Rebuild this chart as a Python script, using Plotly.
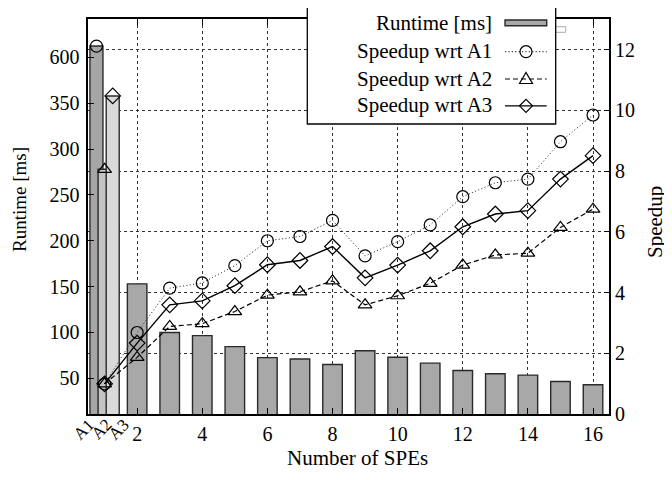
import plotly.graph_objects as go

# ---------------- data ----------------
base_labels = ["A1", "A2", "A3"]
base_pos = [0.75, 1.0, 1.25]
base_runtime = [662, 278, 390]          # ms

spes = list(range(2, 17))
runtime = [153, 100, 96.5, 84.5, 72.5, 71, 65, 80, 73, 66.5, 58.5, 55, 53.5, 46.5, 43]

sp_x = [1] + spes
speedup_a1 = [1.0, 2.69, 4.15, 4.32, 4.89, 5.71, 5.85, 6.38, 5.21, 5.68, 6.23, 7.16, 7.62, 7.74, 8.97, 9.85]
speedup_a2 = [1.0, 1.87, 2.89, 2.98, 3.38, 3.92, 4.03, 4.39, 3.60, 3.90, 4.31, 4.91, 5.24, 5.30, 6.15, 6.75]
speedup_a3 = [1.0, 2.34, 3.60, 3.73, 4.23, 4.92, 5.06, 5.52, 4.49, 4.91, 5.38, 6.17, 6.59, 6.70, 7.74, 8.51]

left_ticks = [50, 100, 150, 200, 250, 300, 350, 600]
x_ticks = [2, 4, 6, 8, 10, 12, 14, 16]

# broken left axis: above 350 ms the scale is compressed
BREAK, SQUEEZE = 350, 5.0
def tr(v):
    return v if v <= BREAK else BREAK + (v - BREAK) / SQUEEZE

# the page body has an 8px margin, so the figure is drawn 8px in from the corner
OFF = 8
W, H = 672 - OFF, 480 - OFF
FONT = "Liberation Serif, Times New Roman, serif"
FS_TICK = 20
FS_TEXT = 21
def px(x):
    return (x - OFF) / W
def py(y):
    return 1 - (y - OFF) / H

DOT = "1.2px,2.2px"
DASH = "5px,3px"

fig = go.Figure()

bar_line = dict(color="#2a2a2a", width=1.4)
base_colors = ["#a6a6a6", "#c4c4c4", "#d9d9d9"]
for lab, pos, val, col in zip(base_labels, base_pos, base_runtime, base_colors):
    fig.add_trace(go.Bar(x=[pos], y=[tr(val)], width=0.4, marker=dict(color=col, line=bar_line),
                         showlegend=False, hoverinfo="skip"))
fig.add_trace(go.Bar(x=spes, y=[tr(v) for v in runtime], width=0.6,
                     marker=dict(color="#a8a8a8", line=bar_line), showlegend=False))

# markers on top of the baseline bars
syms = ["circle-open", "triangle-up-open", "diamond-open"]
for pos, val, s in zip(base_pos, base_runtime, syms):
    fig.add_trace(go.Scatter(x=[pos], y=[tr(val)], mode="markers",
                             marker=dict(symbol=s, size=12, color="black", line=dict(width=1.2)),
                             showlegend=False, cliponaxis=False))

series = [
    (speedup_a1, "circle-open", dict(color="#444444", width=1, dash=DOT)),
    (speedup_a2, "triangle-up-open", dict(color="black", width=1.2, dash=DASH)),
    (speedup_a3, "diamond-open", dict(color="black", width=1.4)),
]
for vals, s, ln in series:
    fig.add_trace(go.Scatter(x=sp_x, y=vals, yaxis="y2", mode="lines+markers", line=ln,
                             marker=dict(symbol=s, size=12, color="black", line=dict(width=1.2)),
                             showlegend=False, cliponaxis=False))

x_dom = [px(88.3), px(609.3)]
y_dom = [py(414.2), py(19.3)]

fig.update_layout(
    width=W, height=H, margin=dict(l=0, r=0, t=0, b=0, pad=0, autoexpand=False),
    paper_bgcolor="white", plot_bgcolor="white",
    barmode="overlay", showlegend=False,
    font=dict(family=FONT, size=FS_TICK, color="black"),
    xaxis=dict(domain=x_dom, range=[0.5, 16.5], tickvals=x_ticks, ticktext=[str(v) for v in x_ticks],
               ticks="inside", ticklen=6, tickcolor="black", showline=True, linecolor="black",
               linewidth=1.5, mirror="ticks", showgrid=True, gridcolor="#333", griddash="dot",
               gridwidth=1, zeroline=False, ticklabelstandoff=1, automargin=False),
    yaxis=dict(domain=y_dom, range=[10.84, 441.6], tickvals=[tr(v) for v in left_ticks],
               ticktext=[str(v) for v in left_ticks], ticks="inside", ticklen=6, tickcolor="black",
               showline=True, linecolor="black", linewidth=1.5, showgrid=False, zeroline=False,
               ticklabelstandoff=3, automargin=False),
    yaxis2=dict(overlaying="y", side="right", range=[0, 13], tickvals=[0, 2, 4, 6, 8, 10, 12],
                ticks="inside", ticklen=6, tickcolor="black", showline=True, linecolor="black",
                linewidth=1.5, showgrid=True, gridcolor="#333", griddash="dot", gridwidth=1,
                zeroline=False, ticklabelstandoff=0, automargin=False),
)

ann = []
def note(x, y, text, size=FS_TEXT, angle=0, xanchor="center"):
    ann.append(dict(x=px(x), y=py(y), xref="paper", yref="paper", text=text, showarrow=False,
                    textangle=angle, xanchor=xanchor, yanchor="middle", font=dict(size=size)))

for lab, xx in zip(base_labels, [83.5, 101, 118.5]):
    note(xx, 429, lab, size=17, angle=-45)
note(19, 200, "Runtime [ms]", size=19, angle=-90)
note(655, 222, "Speedup", angle=-90)
note(357, 458, "Number of SPEs")

# ---- hand-drawn key (text right-aligned, sample on the right) ----
shapes = []
shapes.append(dict(type="rect", xref="paper", yref="paper", x0=px(548), x1=px(565.7), y0=py(32.3), y1=py(26.7),
                   fillcolor="white", line=dict(color="#aaaaaa", width=1), layer="above"))
shapes.append(dict(type="rect", xref="paper", yref="paper", x0=px(307.3), x1=px(555.7), y0=py(124), y1=py(4.7),
                   fillcolor="white", line=dict(color="black", width=1.3), layer="above"))
rows = [("Runtime [ms]", 23.5), ("Speedup wrt A1", 51), ("Speedup wrt A2", 78.5), ("Speedup wrt A3", 105)]
for txt, yy in rows:
    note(493.5, yy, txt, xanchor="right")
# runtime sample
shapes.append(dict(type="rect", xref="paper", yref="paper", x0=px(505), x1=px(546.7), y0=py(25.7), y1=py(20),
                   fillcolor="#a8a8a8", line=dict(color="#2a2a2a", width=1.4), layer="above"))
sx0, sx1, cx = 505, 546.7, 526
dashes = [DOT, DASH, "solid"]
colors = ["#444444", "black", "black"]
mk_y = [51.7, 79, 105.8]
for yy, d, c in zip(mk_y, dashes, colors):
    shapes.append(dict(type="line", xref="paper", yref="paper", x0=px(sx0), x1=px(sx1), y0=py(yy), y1=py(yy),
                       line=dict(color=c, width=1.2, dash=d), layer="above"))
r = 6
# circle
y1c = mk_y[0]
shapes.append(dict(type="circle", xref="paper", yref="paper", x0=px(cx - r), x1=px(cx + r),
                   y0=py(y1c + r), y1=py(y1c - r), fillcolor="rgba(0,0,0,0)",
                   line=dict(color="black", width=1.2), layer="above"))
# triangle
y2c = mk_y[1]
tri = "M {} {} L {} {} L {} {} Z".format(px(cx), py(y2c - 6.5), px(cx - 6.5), py(y2c + 4.5), px(cx + 6.5), py(y2c + 4.5))
shapes.append(dict(type="path", xref="paper", yref="paper", path=tri, line=dict(color="black", width=1.2), layer="above"))
# diamond
y3c = mk_y[2]
dia = "M {} {} L {} {} L {} {} L {} {} Z".format(px(cx), py(y3c - 6.5), px(cx + 6.5), py(y3c),
                                                 px(cx), py(y3c + 6.5), px(cx - 6.5), py(y3c))
shapes.append(dict(type="path", xref="paper", yref="paper", path=dia, line=dict(color="black", width=1.2), layer="above"))

fig.update_layout(annotations=ann, shapes=shapes)
fig.write_html("out.html")
